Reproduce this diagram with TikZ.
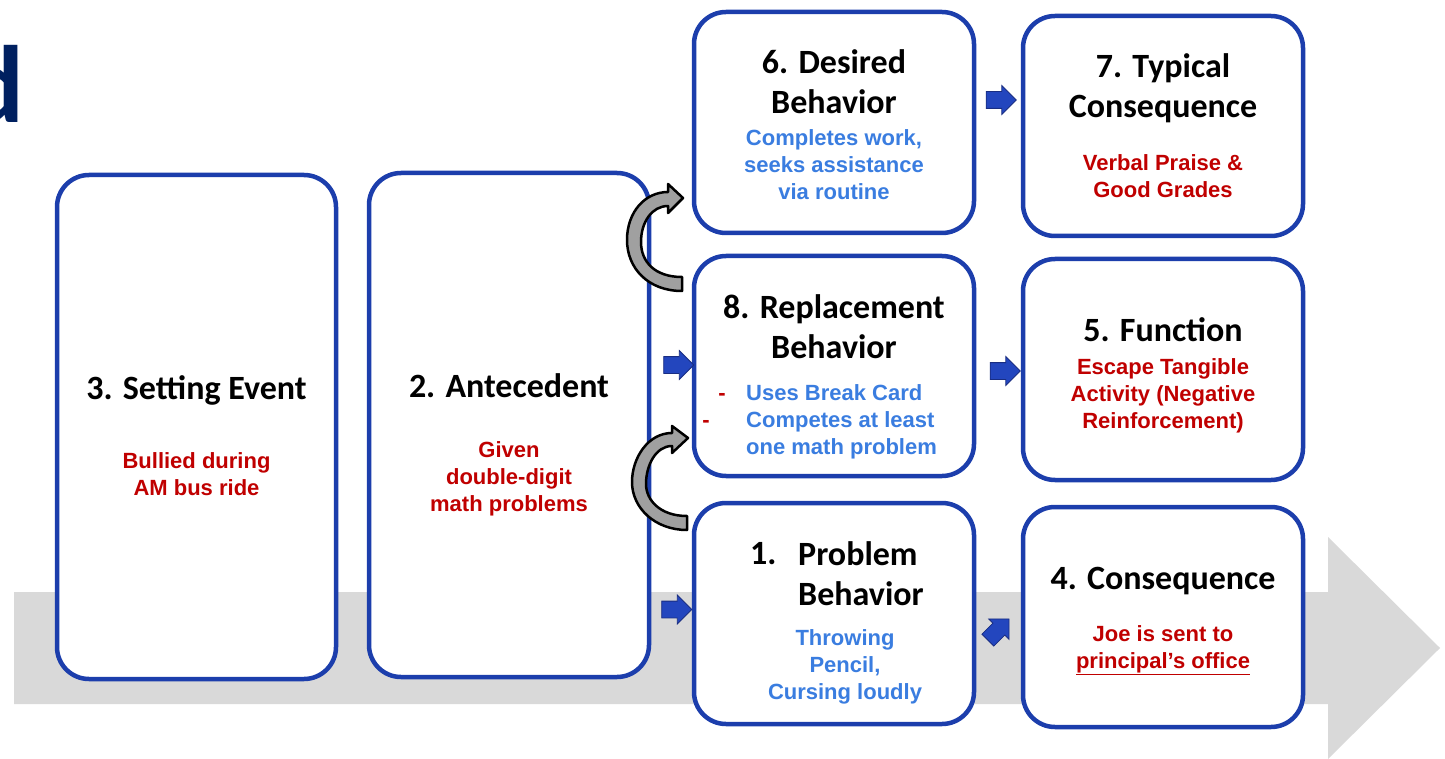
\documentclass[tikz,border=0pt]{standalone}
\usepackage{fontspec}
\newfontfamily\titlefont{Carlito}
\newfontfamily\bodyfont{Liberation Sans}
\usetikzlibrary{shapes.arrows}
\definecolor{boxblue}{RGB}{28,62,172}
\definecolor{txtblue}{RGB}{58,125,224}
\definecolor{txtred}{RGB}{192,0,0}
\definecolor{navy}{RGB}{0,32,96}
\definecolor{bandgray}{RGB}{217,217,217}
\definecolor{arrfill}{RGB}{35,70,190}
\definecolor{arrline}{RGB}{25,45,130}
\definecolor{curvegray}{RGB}{160,160,160}
\begin{document}
\begin{tikzpicture}[x=1pt,y=-1pt,
 box/.style={draw=boxblue, line width=4.5pt, fill=white, rounded corners=32pt, inner sep=0pt},
 title/.style={font=\titlefont\bfseries\fontsize{34}{40}\selectfont, align=center, anchor=base, inner sep=0pt},
 bodyr/.style={font=\bodyfont\bfseries\fontsize{22}{27}\selectfont, text=txtred, align=center, anchor=base, inner sep=0pt},
 bodyb/.style={font=\bodyfont\bfseries\fontsize{22}{27}\selectfont, text=txtblue, align=center, anchor=base, inner sep=0pt},
 barrow/.style={single arrow, fill=arrfill, draw=arrline, line width=0.8pt, minimum height=30pt, inner xsep=0pt, inner ysep=8pt, text height=0pt, text depth=0pt, single arrow head extend=6pt},
 carrow/.style={fill=curvegray, draw=black, line width=2.5pt, line join=round}]
\useasboundingbox (0,0) rectangle (1445,759);
% background band arrow
\fill[bandgray] (14,592) -- (1328,592) -- (1328,537) -- (1440,648) -- (1328,759) -- (1328,704) -- (14,704) -- cycle;
% title fragment
\begin{scope}
\clip (0,0) rectangle (60,150);
\node[font=\titlefont\bfseries\fontsize{110}{110}\selectfont, text=navy, anchor=base east, inner sep=0pt] (dglyph) at (25,123) {d};
\end{scope}
% boxes
\node[box, minimum width=279pt, minimum height=504pt] (b3) at (196.5,427) {};
\node[box, minimum width=280pt, minimum height=504pt] (b2) at (509,425) {};
\node[box, minimum width=280pt, minimum height=221pt] (b6) at (834,122.5) {};
\node[box, minimum width=280pt, minimum height=220pt] (b7) at (1163,126) {};
\node[box, minimum width=280pt, minimum height=220pt] (b8) at (834,366) {};
\node[box, minimum width=280pt, minimum height=221pt] (b5) at (1163,369.5) {};
\node[box, minimum width=280pt, minimum height=221pt] (b1) at (834,613.5) {};
\node[box, minimum width=280pt, minimum height=220pt] (b4) at (1163,617) {};
% curved arrows
\draw[carrow] (682,277) .. controls (655,277) and (641,262) .. (641,242) .. controls (641,222) and (652,206) .. (668,206) -- (668,213) -- (683,198) -- (668,184) -- (668,192) .. controls (645,192) and (627,212) .. (627,240) .. controls (627,268) and (648,291) .. (682,291) -- cycle;
\draw[carrow] (687,516) .. controls (660,516) and (646,500) .. (646,484) .. controls (646,465) and (656,446) .. (672,446) -- (672,453) -- (688,438) -- (672,426) -- (672,433) .. controls (648,433) and (632,458) .. (632,482) .. controls (632,508) and (655,530) .. (687,530) -- cycle;
% small block arrows
\node[barrow] (a28) at (674.5,365) {};
\node[barrow] (a21) at (672.5,609.5) {};
\node[barrow] (a67) at (997,100) {};
\node[barrow] (a85) at (1001,371) {};
\node[barrow, rotate=45] (a14) at (995.5,632.5) {};
% texts (base anchor = baseline of the last line)
\node[title] (t3) at (196.5,399) {3. Setting Event};
\node[bodyr] (r3) at (196.5,495) {Bullied during\\AM bus ride};
\node[title] (t2) at (509,397) {2. Antecedent};
\node[bodyr] (r2) at (509,511) {Given\\double-digit\\math problems};
\node[title] (t6) at (834,114) {6. Desired\\Behavior};
\node[bodyb] (r6) at (834,200) {Completes work,\\seeks assistance\\via routine};
\node[title] (t7) at (1163,118) {7. Typical\\Consequence};
\node[bodyr] (r7) at (1163,198) {Verbal Praise \&\\Good Grades};
\node[title] (t8) at (834,358) {8. Replacement\\Behavior};
\node[bodyb, align=left, anchor=base west] (r8) at (746,454) {Uses Break Card\\Competes at least\\one math problem};
\node[bodyr] (d8a) at (722,400) {-};
\node[bodyr] (d8b) at (706,427) {-};
\node[title] (t5) at (1163,341) {5. Function};
\node[bodyr] (r5) at (1163,428) {Escape Tangible\\Activity (Negative\\Reinforcement)};
\node[title, anchor=base west] (n1) at (750,564) {1.};
\node[title, align=left, anchor=base west] (t1) at (798,605) {Problem\\Behavior};
\node[bodyb] (r1) at (845,699) {Throwing\\Pencil,\\Cursing loudly};
\node[title] (t4) at (1163,589) {4. Consequence};
\node[bodyr] (r4) at (1163,668) {Joe is sent to\\\underline{principal’s office}};
\end{tikzpicture}
\end{document}
